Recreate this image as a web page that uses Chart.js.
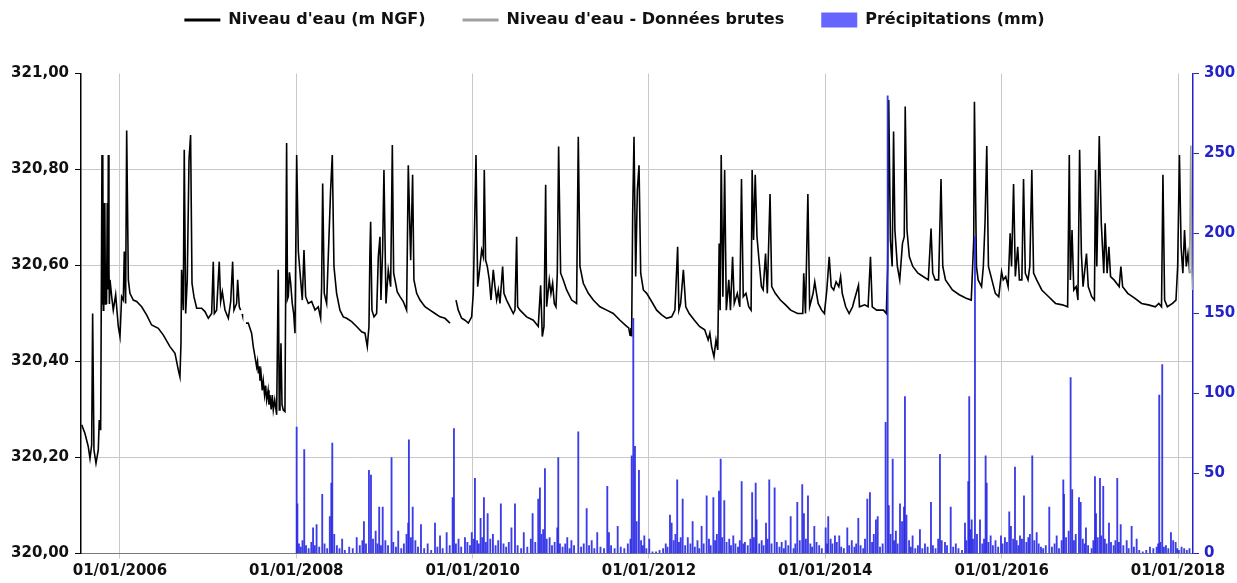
<!DOCTYPE html>
<html lang="fr">
<head>
<meta charset="utf-8">
<title>Niveau d'eau et précipitations</title>
<script src="https://cdn.jsdelivr.net/npm/chart.js@4.4.1/dist/chart.umd.min.js"></script>
<style>
  html, body { margin: 0; padding: 0; background: #ffffff; }
  #wrap { width: 1237px; height: 583px; position: relative; }
</style>
</head>
<body>
<div id="wrap"><canvas id="chart"></canvas></div>
<script>
// ---- Axis labels -------------------------------------------------------
const xTickYears = [2006, 2008, 2010, 2012, 2014, 2016, 2018];   // labelled 01/01/yyyy
const levelTicks = [320.0, 320.2, 320.4, 320.6, 320.8, 321.0];
const rainTicks  = [0, 50, 100, 150, 200, 250, 300];

// ---- Water level (m NGF), [decimal year, level] ------------------------
const level2005_2007 = [
  [2005.566,320.268],[2005.603,320.250],[2005.640,320.223],[2005.660,320.198],[2005.679,320.226],
  [2005.690,320.500],[2005.705,320.216],[2005.728,320.188],[2005.754,320.216],[2005.765,320.278],
  [2005.781,320.257],[2005.796,320.830],[2005.800,320.520],[2005.805,320.830],[2005.811,320.507],
  [2005.816,320.730],[2005.822,320.600],[2005.828,320.730],[2005.835,320.520],[2005.841,320.600],
  [2005.848,320.520],[2005.856,320.730],[2005.862,320.550],[2005.868,320.830],[2005.875,320.600],
  [2005.880,320.520],[2005.887,320.570],[2005.906,320.535],[2005.924,320.507],[2005.951,320.539],
  [2005.981,320.473],[2006.000,320.452],[2006.019,320.535],[2006.038,320.528],[2006.049,320.629],
  [2006.064,320.521],[2006.076,320.881],[2006.095,320.570],[2006.113,320.542],[2006.151,320.528],
  [2006.189,320.525],[2006.246,320.514],[2006.302,320.497],[2006.359,320.476],[2006.435,320.469],
  [2006.492,320.455],[2006.567,320.431],[2006.624,320.417],[2006.662,320.382],[2006.680,320.368],
  [2006.692,320.438],[2006.699,320.591],[2006.718,320.507],[2006.729,320.841],[2006.745,320.500],
  [2006.763,320.570],[2006.783,320.820],[2006.801,320.872],[2006.817,320.563],[2006.839,320.535],
  [2006.870,320.511],[2006.926,320.511],[2006.964,320.504],[2007.002,320.490],[2007.040,320.500],
  [2007.058,320.608],[2007.070,320.500],[2007.096,320.507],[2007.126,320.608],[2007.142,320.525],
  [2007.161,320.545],[2007.191,320.507],[2007.229,320.490],[2007.256,320.525],[2007.278,320.608],
  [2007.293,320.507],[2007.323,320.521],[2007.335,320.570],[2007.353,320.514],[2007.369,320.507]
];
const level2007_spot = [[2007.386,320.499],[2007.390,320.496]];
const level2007_2009 = [
  [2007.429,320.480],[2007.455,320.480],[2007.493,320.459],[2007.512,320.431],[2007.531,320.410],
  [2007.550,320.389],[2007.560,320.400],[2007.570,320.375],[2007.580,320.390],[2007.588,320.360],
  [2007.600,320.375],[2007.613,320.340],[2007.625,320.360],[2007.640,320.330],[2007.652,320.350],
  [2007.664,320.320],[2007.680,320.340],[2007.690,320.310],[2007.701,320.330],[2007.715,320.300],
  [2007.727,320.330],[2007.739,320.299],[2007.755,320.320],[2007.777,320.289],[2007.795,320.591],
  [2007.807,320.299],[2007.815,320.330],[2007.826,320.438],[2007.838,320.310],[2007.852,320.299],
  [2007.871,320.296],[2007.890,320.855],[2007.900,320.530],[2007.909,320.535],[2007.922,320.586],
  [2007.936,320.563],[2007.954,320.521],[2007.970,320.500],[2007.985,320.459],[2008.004,320.830],
  [2008.023,320.629],[2008.049,320.570],[2008.068,320.528],[2008.087,320.632],[2008.106,320.535],
  [2008.136,320.521],[2008.174,320.525],[2008.212,320.507],[2008.249,320.514],[2008.276,320.490],
  [2008.287,320.556],[2008.299,320.771],[2008.317,320.542],[2008.344,320.521],[2008.389,320.757],
  [2008.408,320.830],[2008.427,320.598],[2008.457,320.542],[2008.495,320.507],[2008.533,320.493],
  [2008.571,320.490],[2008.628,320.483],[2008.684,320.473],[2008.741,320.462],[2008.779,320.459],
  [2008.805,320.431],[2008.824,320.473],[2008.835,320.629],[2008.843,320.691],[2008.858,320.507],
  [2008.881,320.493],[2008.911,320.500],[2008.930,320.618],[2008.949,320.660],[2008.960,320.528],
  [2008.979,320.632],[2008.994,320.799],[2009.017,320.521],[2009.043,320.591],[2009.070,320.556],
  [2009.089,320.851],[2009.104,320.584],[2009.119,320.570],[2009.145,320.545],[2009.176,320.535],
  [2009.213,320.525],[2009.251,320.507],[2009.270,320.809],[2009.297,320.611],[2009.319,320.789],
  [2009.334,320.570],[2009.365,320.542],[2009.403,320.528],[2009.459,320.514],[2009.516,320.507],
  [2009.573,320.500],[2009.630,320.493],[2009.686,320.490],[2009.743,320.480]
];
const level2009_2018 = [
  [2009.811,320.528],[2009.837,320.507],[2009.875,320.490],[2009.913,320.486],[2009.951,320.480],
  [2009.989,320.493],[2010.007,320.542],[2010.038,320.830],[2010.057,320.556],[2010.083,320.598],
  [2010.102,320.632],[2010.121,320.618],[2010.132,320.799],[2010.147,320.611],[2010.166,320.598],
  [2010.189,320.570],[2010.208,320.528],[2010.234,320.591],[2010.253,320.556],[2010.272,320.528],
  [2010.291,320.549],[2010.310,320.521],[2010.340,320.598],[2010.355,320.542],[2010.385,320.528],
  [2010.423,320.514],[2010.461,320.500],[2010.480,320.507],[2010.499,320.660],[2010.510,320.514],
  [2010.537,320.507],[2010.612,320.493],[2010.688,320.486],[2010.744,320.473],[2010.771,320.559],
  [2010.790,320.452],[2010.809,320.473],[2010.828,320.768],[2010.839,320.514],[2010.869,320.570],
  [2010.888,320.542],[2010.907,320.563],[2010.926,320.521],[2010.945,320.514],[2010.960,320.584],
  [2010.975,320.848],[2010.998,320.584],[2011.028,320.570],[2011.066,320.549],[2011.123,320.528],
  [2011.179,320.521],[2011.198,320.868],[2011.217,320.598],[2011.255,320.563],[2011.312,320.542],
  [2011.368,320.528],[2011.444,320.514],[2011.520,320.507],[2011.595,320.500],[2011.671,320.486],
  [2011.747,320.473],[2011.770,320.470],[2011.785,320.455],[2011.795,320.470],[2011.803,320.452],
  [2011.815,320.709],[2011.830,320.868],[2011.849,320.577],[2011.868,320.757],[2011.887,320.809],
  [2011.906,320.584],[2011.936,320.549],[2011.974,320.542],[2012.030,320.525],[2012.087,320.507],
  [2012.144,320.497],[2012.200,320.490],[2012.257,320.493],[2012.294,320.507],[2012.325,320.639],
  [2012.339,320.507],[2012.359,320.521],[2012.390,320.591],[2012.417,320.514],[2012.456,320.500],
  [2012.515,320.486],[2012.573,320.473],[2012.632,320.466],[2012.671,320.445],[2012.690,320.459],
  [2012.710,320.431],[2012.737,320.410],[2012.760,320.445],[2012.780,320.424],[2012.796,320.646],
  [2012.807,320.507],[2012.819,320.830],[2012.838,320.535],[2012.858,320.799],[2012.877,320.507],
  [2012.905,320.570],[2012.924,320.507],[2012.948,320.618],[2012.967,320.521],[2013.002,320.542],
  [2013.030,320.514],[2013.049,320.780],[2013.069,320.535],[2013.100,320.542],[2013.131,320.514],
  [2013.158,320.507],[2013.170,320.799],[2013.186,320.653],[2013.205,320.789],[2013.225,320.660],
  [2013.248,320.611],[2013.275,320.556],[2013.295,320.549],[2013.322,320.625],[2013.342,320.542],
  [2013.373,320.749],[2013.392,320.556],[2013.432,320.542],[2013.490,320.528],[2013.549,320.518],
  [2013.607,320.507],[2013.685,320.500],[2013.744,320.500],[2013.755,320.584],[2013.775,320.500],
  [2013.802,320.749],[2013.822,320.514],[2013.861,320.542],[2013.880,320.566],[2013.900,320.542],
  [2013.919,320.521],[2013.958,320.507],[2013.989,320.500],[2014.017,320.549],[2014.044,320.618],
  [2014.067,320.556],[2014.095,320.549],[2014.122,320.566],[2014.153,320.556],[2014.173,320.577],
  [2014.192,320.542],[2014.231,320.514],[2014.270,320.500],[2014.309,320.514],[2014.329,320.528],
  [2014.376,320.559],[2014.387,320.514],[2014.446,320.518],[2014.485,320.514],[2014.512,320.618],
  [2014.532,320.514],[2014.582,320.507],[2014.660,320.507],[2014.692,320.500],[2014.707,320.598],
  [2014.719,320.945],[2014.738,320.653],[2014.758,320.598],[2014.774,320.879],[2014.789,320.674],
  [2014.817,320.598],[2014.844,320.570],[2014.875,320.646],[2014.895,320.660],[2014.906,320.931],
  [2014.926,320.674],[2014.953,320.618],[2014.992,320.598],[2015.051,320.584],[2015.109,320.577],
  [2015.168,320.570],[2015.199,320.677],[2015.218,320.584],[2015.246,320.570],[2015.285,320.570],
  [2015.312,320.780],[2015.332,320.598],[2015.363,320.570],[2015.441,320.549],[2015.519,320.539],
  [2015.597,320.532],[2015.655,320.528],[2015.683,320.653],[2015.691,320.941],[2015.714,320.598],
  [2015.733,320.570],[2015.772,320.556],[2015.792,320.598],[2015.811,320.688],[2015.831,320.849],
  [2015.850,320.598],[2015.889,320.570],[2015.928,320.542],[2015.967,320.535],[2015.999,320.587],
  [2016.018,320.570],[2016.046,320.577],[2016.073,320.556],[2016.096,320.667],[2016.112,320.598],
  [2016.135,320.770],[2016.155,320.577],[2016.182,320.639],[2016.201,320.570],[2016.229,320.570],
  [2016.248,320.780],[2016.268,320.584],[2016.299,320.570],[2016.319,320.598],[2016.342,320.799],
  [2016.362,320.584],[2016.397,320.570],[2016.455,320.549],[2016.533,320.535],[2016.611,320.521],
  [2016.689,320.518],[2016.748,320.514],[2016.767,320.830],[2016.779,320.570],[2016.798,320.674],
  [2016.818,320.549],[2016.845,320.556],[2016.865,320.528],[2016.884,320.841],[2016.904,320.625],
  [2016.923,320.556],[2016.962,320.625],[2016.982,320.556],[2017.021,320.535],[2017.052,320.528],
  [2017.064,320.799],[2017.079,320.598],[2017.107,320.870],[2017.130,320.688],[2017.158,320.584],
  [2017.173,320.688],[2017.196,320.584],[2017.216,320.639],[2017.235,320.577],[2017.274,320.570],
  [2017.333,320.556],[2017.352,320.598],[2017.372,320.556],[2017.430,320.542],[2017.508,320.532],
  [2017.587,320.521],[2017.665,320.518],[2017.743,320.514],[2017.782,320.521],[2017.813,320.514],
  [2017.829,320.789],[2017.848,320.528],[2017.879,320.514],[2017.938,320.521],[2017.977,320.528],
  [2017.996,320.598],[2018.016,320.830],[2018.035,320.639],[2018.055,320.584],[2018.074,320.674],
  [2018.094,320.598],[2018.113,320.625],[2018.133,320.584]
];
// Raw (not yet validated) readings at the end of the record
const levelRaw = [[2018.130,320.584],[2018.145,320.850],[2018.155,320.600],[2018.165,320.549]];

// ---- Daily rainfall (mm), [decimal year, mm] ---------------------------
const rain2008 = [[2008.004,79],[2008.012,31],[2008.03,6],[2008.05,4],[2008.07,8],[2008.09,65],[2008.11,5],[2008.14,3],[2008.17,7],[2008.19,16],[2008.21,5],[2008.23,18],[2008.26,4],[2008.294,37],[2008.32,6],[2008.35,3],[2008.38,23],[2008.397,44],[2008.408,69],[2008.43,12],[2008.46,5],[2008.49,3],[2008.52,9],[2008.55,2],[2008.60,4],[2008.64,3],[2008.685,10],[2008.72,5],[2008.75,8],[2008.767,20],[2008.79,6],[2008.824,52],[2008.847,49],[2008.87,9],[2008.90,14],[2008.92,6],[2008.94,29],[2008.96,5],[2008.98,29]];
const rain2009 = [[2009.01,8],[2009.04,5],[2009.08,60],[2009.10,7],[2009.13,4],[2009.156,14],[2009.19,3],[2009.22,6],[2009.25,12],[2009.269,19],[2009.277,71],[2009.30,10],[2009.32,29],[2009.35,8],[2009.38,4],[2009.414,18],[2009.45,3],[2009.49,6],[2009.53,2],[2009.573,19],[2009.60,4],[2009.63,11],[2009.66,3],[2009.705,13],[2009.74,5],[2009.773,35],[2009.788,78],[2009.81,6],[2009.84,9],[2009.87,4],[2009.913,10],[2009.94,7],[2009.97,5],[2009.99,13]];
const rain2010 = [[2010.01,9],[2010.026,47],[2010.05,8],[2010.07,6],[2010.09,22],[2010.11,10],[2010.128,35],[2010.15,7],[2010.17,25],[2010.20,9],[2010.23,12],[2010.26,5],[2010.29,8],[2010.32,31],[2010.35,6],[2010.38,4],[2010.41,7],[2010.44,16],[2010.48,31],[2010.51,5],[2010.55,3],[2010.58,13],[2010.62,4],[2010.66,9],[2010.68,25],[2010.71,7],[2010.744,34],[2010.763,41],[2010.78,12],[2010.80,15],[2010.82,53],[2010.84,9],[2010.873,10],[2010.90,5],[2010.93,7],[2010.96,16],[2010.971,60],[2010.99,6]];
const rain2011 = [[2011.02,4],[2011.05,6],[2011.073,10],[2011.10,3],[2011.12,8],[2011.15,5],[2011.198,76],[2011.23,4],[2011.26,6],[2011.293,28],[2011.32,5],[2011.35,8],[2011.38,3],[2011.413,13],[2011.45,4],[2011.49,3],[2011.527,42],[2011.546,13],[2011.57,5],[2011.61,3],[2011.645,17],[2011.68,4],[2011.72,3],[2011.76,6],[2011.79,9],[2011.804,61],[2011.822,147],[2011.841,67],[2011.86,20],[2011.886,52],[2011.91,8],[2011.93,5],[2011.947,11],[2011.97,3]];
const rain2012 = [[2012.003,9],[2012.04,1],[2012.08,1],[2012.12,2],[2012.16,3],[2012.19,6],[2012.21,4],[2012.238,24],[2012.257,19],[2012.28,8],[2012.30,12],[2012.32,46],[2012.34,7],[2012.36,10],[2012.382,34],[2012.41,5],[2012.44,10],[2012.47,6],[2012.495,20],[2012.52,4],[2012.55,8],[2012.57,3],[2012.597,17],[2012.62,6],[2012.654,36],[2012.68,9],[2012.70,5],[2012.73,35],[2012.75,8],[2012.77,12],[2012.794,39],[2012.813,59],[2012.83,10],[2012.854,33],[2012.88,7],[2012.91,9],[2012.93,5],[2012.956,11],[2012.98,6]];
const rain2013 = [[2013.01,4],[2013.03,8],[2013.051,45],[2013.07,6],[2013.088,7],[2013.12,5],[2013.15,9],[2013.17,38],[2013.19,10],[2013.21,44],[2013.22,21],[2013.25,6],[2013.278,8],[2013.30,5],[2013.327,19],[2013.345,9],[2013.364,46],[2013.39,6],[2013.425,41],[2013.45,7],[2013.48,4],[2013.505,7],[2013.53,3],[2013.55,8],[2013.58,5],[2013.607,23],[2013.64,3],[2013.66,6],[2013.682,32],[2013.71,8],[2013.738,43],[2013.757,25],[2013.78,9],[2013.803,36],[2013.83,6],[2013.85,4],[2013.875,17],[2013.90,7],[2013.93,5],[2013.96,3]];
const rain2014 = [[2014.004,16],[2014.02,6],[2014.033,23],[2014.06,9],[2014.08,6],[2014.109,11],[2014.13,7],[2014.158,11],[2014.18,4],[2014.21,3],[2014.249,16],[2014.27,5],[2014.30,8],[2014.33,4],[2014.35,6],[2014.374,22],[2014.40,5],[2014.43,3],[2014.45,9],[2014.476,34],[2014.506,38],[2014.53,7],[2014.55,12],[2014.574,21],[2014.594,23],[2014.62,4],[2014.65,6],[2014.684,82],[2014.707,286],[2014.72,30],[2014.74,12],[2014.764,59],[2014.78,8],[2014.80,14],[2014.82,6],[2014.847,31],[2014.87,20],[2014.892,29],[2014.903,98],[2014.92,24],[2014.95,8],[2014.97,4],[2014.99,11]];
const rain2015 = [[2015.02,3],[2015.05,5],[2015.073,15],[2015.10,3],[2015.13,6],[2015.16,4],[2015.198,32],[2015.22,5],[2015.25,3],[2015.28,9],[2015.30,62],[2015.32,8],[2015.357,7],[2015.38,5],[2015.422,29],[2015.45,4],[2015.48,6],[2015.51,3],[2015.55,2],[2015.584,19],[2015.60,8],[2015.621,45],[2015.632,98],[2015.645,15],[2015.66,21],[2015.675,9],[2015.697,198],[2015.72,12],[2015.754,21],[2015.78,6],[2015.80,9],[2015.818,61],[2015.83,44],[2015.85,7],[2015.875,11],[2015.90,5],[2015.93,8],[2015.96,4],[2015.992,11]];
const rain2016 = [[2016.01,6],[2016.037,10],[2016.06,7],[2016.086,26],[2016.105,17],[2016.13,9],[2016.151,54],[2016.17,8],[2016.19,5],[2016.208,11],[2016.23,9],[2016.253,36],[2016.28,7],[2016.302,10],[2016.32,12],[2016.347,61],[2016.37,8],[2016.397,13],[2016.42,6],[2016.446,4],[2016.47,3],[2016.50,5],[2016.54,29],[2016.57,4],[2016.60,6],[2016.624,11],[2016.65,3],[2016.68,8],[2016.699,46],[2016.707,37],[2016.73,10],[2016.76,14],[2016.782,110],[2016.80,40],[2016.82,8],[2016.84,12],[2016.877,35],[2016.896,32],[2016.92,9],[2016.94,6],[2016.956,16],[2016.98,5]];
const rain2017 = [[2017.02,3],[2017.04,8],[2017.058,48],[2017.07,25],[2017.09,10],[2017.115,47],[2017.13,11],[2017.152,42],[2017.17,9],[2017.19,6],[2017.217,19],[2017.24,7],[2017.27,5],[2017.29,8],[2017.311,47],[2017.33,7],[2017.35,18],[2017.38,5],[2017.418,8],[2017.44,3],[2017.474,17],[2017.50,4],[2017.531,9],[2017.56,2],[2017.60,1],[2017.64,2],[2017.682,4],[2017.72,3],[2017.758,4],[2017.775,6],[2017.787,99],[2017.80,7],[2017.821,118],[2017.84,4],[2017.863,5],[2017.89,3],[2017.92,13],[2017.945,8],[2017.973,7],[2017.99,3]];
const rain2018 = [[2018.01,2],[2018.04,4],[2018.07,3],[2018.10,2],[2018.13,3]];

// ---- Build Chart.js point lists ----------------------------------------
const toXY = pairs => pairs.map(([x, y]) => ({ x, y }));
const gapAfter = pairs => ({ x: pairs[pairs.length - 1][0] + 0.001, y: null });

const levelSegments = [level2005_2007, level2007_spot, level2007_2009, level2009_2018];
const levelPoints = [];
levelSegments.forEach((seg, i) => {
  levelPoints.push(...toXY(seg));
  if (i < levelSegments.length - 1) levelPoints.push(gapAfter(seg));
});

const rainPoints = toXY([].concat(rain2008, rain2009, rain2010, rain2011, rain2012,
  rain2013, rain2014, rain2015, rain2016, rain2017, rain2018));

// ---- Styling -----------------------------------------------------------
const FONT = 'DejaVu Sans';
const GRID = '#c8c8c8';
const RAIN_AXIS = '#2323c8';

Chart.defaults.font.family = FONT;
Chart.defaults.font.size = 15;
Chart.defaults.font.weight = 'bold';
Chart.defaults.color = '#111111';

// Legend strip: fixed band height above the plot, items lifted towards the top
const legendBand = {
  id: 'legendBand',
  beforeUpdate(chart) {
    const lg = chart.legend;
    if (!lg || lg._band) return;
    const fit = lg.fit.bind(lg);
    lg.fit = function () { fit(); this.height = 73.5; };
    const draw = lg.draw.bind(lg);
    lg.draw = function () {
      const c = this.ctx;
      c.save();
      c.translate(-4, -25);
      draw();
      c.restore();
    };
    lg._band = true;
  }
};

const fmtLevel = v => Number(v).toFixed(2).replace('.', ',');

new Chart(document.getElementById('chart'), {
  type: 'line',
  data: {
    datasets: [
      {
        label: "Niveau d'eau (m NGF)",
        data: levelPoints,
        borderColor: '#000000',
        backgroundColor: '#000000',
        borderWidth: 1.6,
        pointRadius: 0,
        pointStyle: 'line',
        tension: 0,
        spanGaps: false,
        yAxisID: 'y',
        order: 2
      },
      {
        label: "Niveau d'eau - Données brutes",
        data: toXY(levelRaw),
        borderColor: '#a0a0a0',
        backgroundColor: '#a0a0a0',
        borderWidth: 1.6,
        pointRadius: 0,
        pointStyle: 'line',
        tension: 0,
        yAxisID: 'y',
        order: 1
      },
      {
        type: 'bar',
        label: 'Précipitations (mm)',
        data: rainPoints,
        backgroundColor: 'rgba(40,40,230,0.9)',
        borderWidth: 0,
        barThickness: 1.2,
        pointStyle: 'rect',
        yAxisID: 'y2',
        order: 0
      }
    ]
  },
  options: {
    responsive: true,
    maintainAspectRatio: false,
    animation: false,
    devicePixelRatio: 1,
    layout: { padding: 0 },
    plugins: {
      tooltip: { enabled: false },
      legend: {
        display: true,
        position: 'top',
        labels: {
          font: { family: FONT, size: 16, weight: 'bold' },
          color: '#111111',
          usePointStyle: true,
          pointStyleWidth: 36,
          boxHeight: 15,
          padding: 37,
          generateLabels(chart) {
            const items = Chart.defaults.plugins.legend.labels.generateLabels(chart);
            items.sort((a, b) => a.datasetIndex - b.datasetIndex);
            items.forEach(it => {
              if (it.datasetIndex === 2) {
                it.pointStyle = 'rect';
                it.fillStyle = '#6666ff';
                it.strokeStyle = '#6666ff';
                it.lineWidth = 0;
              } else {
                it.pointStyle = 'line';
                it.lineWidth = 3;
              }
            });
            return items;
          }
        }
      }
    },
    scales: {
      x: {
        type: 'linear',
        min: 2005.558,
        max: 2018.17,
        offset: false,
        afterBuildTicks(scale) { scale.ticks = xTickYears.map(v => ({ value: v })); },
        afterFit(scale) { scale.height = 29.5; },
        ticks: {
          autoSkip: false,
          maxRotation: 0,
          padding: 4,
          color: '#111111',
          callback: v => '01/01/' + v
        },
        grid: { offset: false, color: GRID, lineWidth: 1, tickLength: 5, tickColor: GRID },
        border: { display: true, color: '#7a7a7a', width: 1 }
      },
      y: {
        position: 'left',
        min: 320,
        max: 321,
        afterBuildTicks(scale) { scale.ticks = levelTicks.map(v => ({ value: v })); },
        afterFit(scale) { scale.width = 81; },
        ticks: { padding: 6, color: '#111111', callback: fmtLevel },
        grid: {
          color: c => (c.tick && (c.tick.value > 320.99 || c.tick.value < 320.01)) ? 'rgba(0,0,0,0)' : GRID,
          lineWidth: 1,
          tickLength: 6,
          tickColor: '#000000'
        },
        border: { display: true, color: '#000000', width: 1.5 }
      },
      y2: {
        position: 'right',
        min: 0,
        max: 300,
        afterBuildTicks(scale) { scale.ticks = rainTicks.map(v => ({ value: v })); },
        afterFit(scale) { scale.width = 44; },
        ticks: { padding: 5, color: RAIN_AXIS },
        grid: { drawOnChartArea: false, tickLength: 6, tickColor: RAIN_AXIS, color: RAIN_AXIS },
        border: { display: true, color: RAIN_AXIS, width: 1.5 }
      }
    }
  },
  plugins: [legendBand]
});
</script>
</body>
</html>
